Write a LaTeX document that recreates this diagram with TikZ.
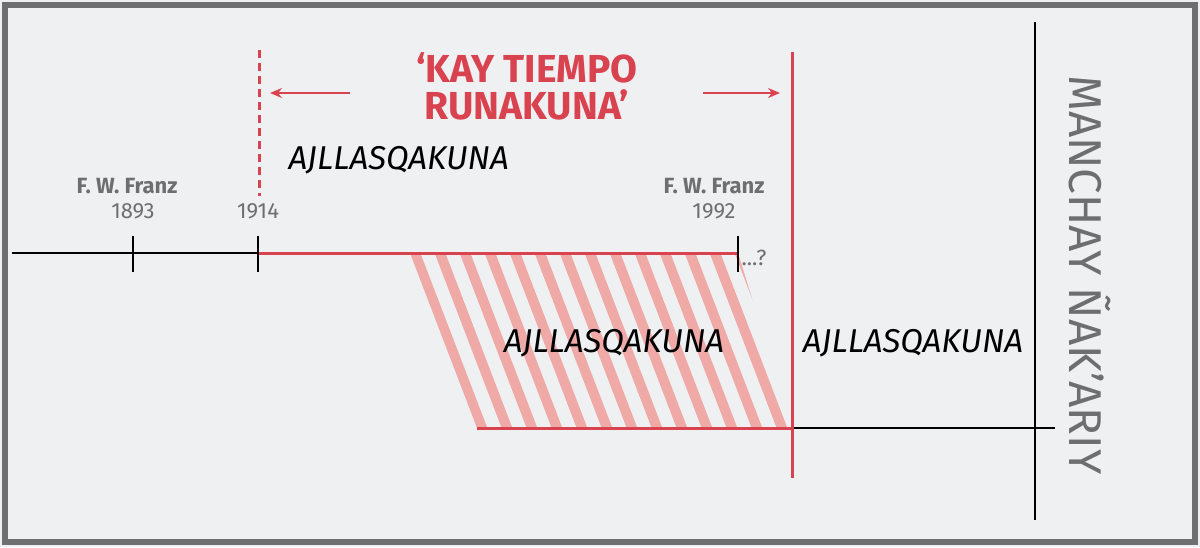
\documentclass[tikz,border=0pt]{standalone}
\usepackage{fontspec}
\setmainfont{Fira Sans}
\usetikzlibrary{arrows.meta}
\definecolor{bg}{HTML}{EFF0F1}
\definecolor{frame}{HTML}{6D6E70}
\definecolor{jred}{HTML}{D9434F}
\definecolor{hatch}{HTML}{EFA9A6}
\definecolor{gtext}{HTML}{6D6E70}
\tikzset{
  axis/.style={line width=1.6pt,black},
  redline/.style={line width=3pt,jred},
  tick/.style={line width=1.4pt,black},
  lbl/.style={font=\fontsize{22}{24}\selectfont,text=gtext},
  lblb/.style={font=\fontsize{22}{24}\selectfont\bfseries,text=gtext},
  ital/.style={font=\fontsize{33}{36}\selectfont\itshape,text=black},
  ttl/.style={font=\fontsize{39}{37}\selectfont\bfseries,text=jred,align=center},
  arr/.style={line width=1.6pt,jred,-{Stealth[length=12pt,width=10pt]}}
}
\begin{document}
\begin{tikzpicture}[x=1pt,y=-1pt]
\useasboundingbox (0,0) rectangle (1200,547);
\fill[bg] (0,0) rectangle (1200,547);
\draw[frame,line width=6pt] (5,5) rectangle (1195,542);
% hatch
\begin{scope}
\clip (410,253) -- (738,253) -- (792,428) -- (477,428) -- cycle;
\foreach \i in {-2,...,18} {
  \draw[hatch,line width=10pt] ({410+25*\i},240) -- ({410+25*\i+77},441);
}
\end{scope}
% axes
\coordinate (a0) at (12,253); \coordinate (a1) at (258,253); \coordinate (a2) at (738,253);
\draw[axis] (a0) -- (a1);
\draw[redline] (a1) -- (a2);
\coordinate (t1a) at (133,236); \coordinate (t1b) at (133,272);
\coordinate (t2a) at (258,236); \coordinate (t2b) at (258,272);
\coordinate (t3a) at (738,236); \coordinate (t3b) at (738,272);
\draw[tick] (t1a) -- (t1b); \draw[tick] (t2a) -- (t2b); \draw[tick] (t3a) -- (t3b);
\coordinate (b0) at (477,428); \coordinate (b1) at (792,428); \coordinate (b2) at (1055,428);
\draw[redline] (b0) -- (b1);
\draw[axis] (b1) -- (b2);
\coordinate (d0) at (259,50); \coordinate (d1) at (259,196);
\draw[jred,line width=3pt,dash pattern=on 8pt off 5pt] (d0) -- (d1);
\coordinate (v0) at (792,52); \coordinate (v1) at (792,478);
\draw[redline] (v0) -- (v1);
\coordinate (m0) at (1035,22); \coordinate (m1) at (1035,520);
\draw[axis] (m0) -- (m1);
% title
\node[ttl] (title) at (527,86) {‘KAY TIEMPO\\RUNAKUNA’};
\coordinate (l0) at (350,93); \coordinate (l1) at (270,93);
\coordinate (r0) at (703,93); \coordinate (r1) at (780,93);
\draw[arr] (l0) -- (l1); \draw[arr] (r0) -- (r1);
% labels
\node[ital,anchor=west] (aj1) at (285,160) {AJLLASQAKUNA};
\node[lblb] (fw1) at (127,186) {F. W. Franz};
\node[lbl] (y1) at (133,211) {1893};
\node[lbl] (y2) at (258,211) {1914};
\node[lblb] (fw2) at (714,186) {F. W. Franz};
\node[lbl] (y3) at (714,211) {1992};
\node[lbl,anchor=west] (q) at (738,258) {...?};
\node[ital] (aj2) at (614,343) {AJLLASQAKUNA};
\node[ital] (aj3) at (913,343) {AJLLASQAKUNA};
\node[font=\fontsize{46}{48}\selectfont,text=gtext,rotate=-90] (man) at (1090,275) {MANCHAY ÑAK’ARIY};
\end{tikzpicture}
\end{document}
